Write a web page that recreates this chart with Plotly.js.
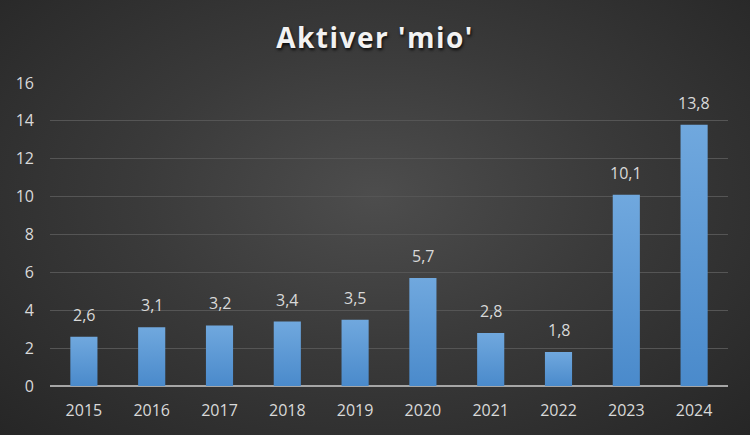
<!DOCTYPE html>
<html>
<head>
<meta charset="utf-8">
<script src="https://cdn.plot.ly/plotly-3.0.1.min.js"></script>
<style>
  html, body { margin: 0; padding: 0; }
  #chart {
    width: 750px; height: 435px;
    background: radial-gradient(ellipse at 50% 45%, #4d4d4d 0%, #3a3a3a 45%, #262626 100%);
  }
  #chart .gtitle { letter-spacing: 1.5px; }
  #chart .trace.bars .point path { fill: url(#barGrad) !important; }
</style>
</head>
<body>
<div id="chart"></div>
<script>
const years = ['2015', '2016', '2017', '2018', '2019', '2020', '2021', '2022', '2023', '2024'];
const values = [2.6, 3.1, 3.2, 3.4, 3.5, 5.7, 2.8, 1.8, 10.1, 13.8];
const yTicks = [0, 2, 4, 6, 8, 10, 12, 14, 16];

const FONT = 'Open Sans, sans-serif';
const LABEL = '#d9d9d9';

const trace = {
  type: 'bar',
  x: years,
  y: values,
  marker: { color: '#5b9bd5', line: { width: 0 } },
  hoverinfo: 'none'
};

// category index i positions each label over its bar
const annotations = years.map((yr, i) => ({
  x: i, y: values[i], xref: 'x', yref: 'y',
  text: values[i].toFixed(1).replace('.', ','),
  showarrow: false, xanchor: 'center', yanchor: 'bottom', yshift: 9,
  font: { family: FONT, size: 16, color: LABEL }
}));

const layout = {
  width: 750, height: 435,
  paper_bgcolor: 'rgba(0,0,0,0)',
  plot_bgcolor: 'rgba(0,0,0,0)',
  separators: ',.',
  margin: { l: 50, r: 22, t: 83, b: 49 },
  bargap: 0.6,
  showlegend: false,
  annotations: annotations,
  title: {
    text: "<b>Aktiver 'mio'</b>",
    font: { family: FONT, size: 28, color: '#f2f2f2', shadow: '1px 2px 3px rgba(0,0,0,0.8)' },
    x: 0.5, xanchor: 'center', y: 0.912, yanchor: 'middle'
  },
  xaxis: {
    type: 'category',
    range: [-0.5, years.length - 0.5],
    tickfont: { family: FONT, size: 16, color: LABEL },
    showgrid: false, ticks: '', showline: false, zeroline: false,
    ticklabelstandoff: 13
  },
  yaxis: {
    range: [0, 16],
    tickvals: yTicks,
    ticktext: yTicks.map(String),
    tickfont: { family: FONT, size: 16, color: LABEL },
    showgrid: true, gridcolor: '#555555', gridwidth: 1,
    zeroline: true, zerolinecolor: '#a6a6a6', zerolinewidth: 2,
    ticks: '', ticklen: 0, showline: false, ticklabelstandoff: 15
  }
};

Plotly.newPlot('chart', [trace], layout, { displayModeBar: false, staticPlot: true }).then(gd => {
  const svg = gd.querySelector('svg.main-svg');
  const ns = 'http://www.w3.org/2000/svg';
  const defs = document.createElementNS(ns, 'defs');
  const grad = document.createElementNS(ns, 'linearGradient');
  grad.setAttribute('id', 'barGrad');
  grad.setAttribute('x1', '0'); grad.setAttribute('y1', '0');
  grad.setAttribute('x2', '0'); grad.setAttribute('y2', '1');
  [['0', '#70a8de'], ['1', '#4a8acb']].forEach(([o, c]) => {
    const s = document.createElementNS(ns, 'stop');
    s.setAttribute('offset', o); s.setAttribute('stop-color', c);
    grad.appendChild(s);
  });
  defs.appendChild(grad);
  svg.insertBefore(defs, svg.firstChild);
});
</script>
</body>
</html>
